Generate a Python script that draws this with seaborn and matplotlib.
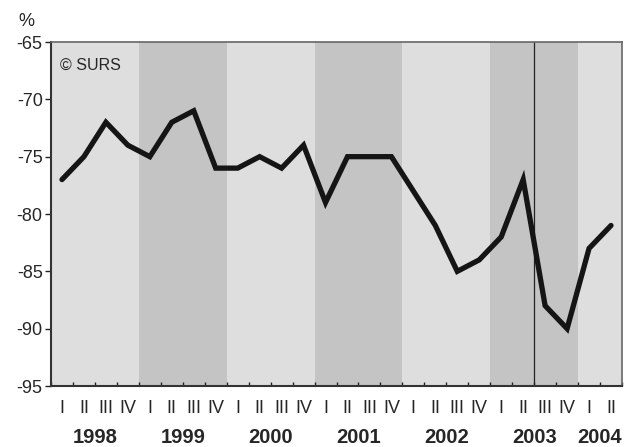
import matplotlib
matplotlib.use("Agg")
import matplotlib.pyplot as plt
import seaborn as sns
import numpy as np
import pandas as pd

# quarterly values, 1998 Q1 - 2004 Q2
years = ['1998', '1999', '2000', '2001', '2002', '2003', '2004']
quarters = ['I', 'II', 'III', 'IV']
values = [-77, -75, -72, -74,
          -75, -72, -71, -76,
          -76, -75, -76, -74,
          -79, -75, -75, -75,
          -78, -81, -85, -84,
          -82, -77, -88, -90,
          -83, -81]
quarter_labels = (quarters * 7)[:len(values)]
year_of_point = [years[i // 4] for i in range(len(values))]

df = pd.DataFrame({'pos': np.arange(len(values)) + 0.5, 'value': values,
                   'quarter': quarter_labels, 'year': year_of_point})

sns.set_style('white')
plt.rcParams['font.family'] = ['Liberation Sans', 'DejaVu Sans']

fig = plt.figure(figsize=(6.32, 4.47), dpi=100)
ax = fig.add_axes([51 / 632, 1 - 386 / 447, 571 / 632, 344 / 447])

n = len(values)
band_colors = ['#dedede', '#c4c4c4']
for i, y in enumerate(years):
    start = i * 4
    end = min(start + 4, n)
    ax.axvspan(start, end, color=band_colors[i % 2], lw=0, zorder=0)

# break line in 2003 between Q2 and Q3
ax.axvline(22, color='#222222', lw=0.9, zorder=1)

sns.lineplot(data=df, x='pos', y='value', ax=ax, color='#151515', lw=3.8,
             zorder=3, solid_joinstyle='miter')

ax.set_xlim(0, n)
ax.set_ylim(-95, -65)
ax.set_yticks(np.arange(-95, -64, 5))
ax.set_yticklabels([str(v) for v in range(-95, -64, 5)], fontsize=13)
ax.set_xticks(np.arange(0, n + 1))
ax.set_xticklabels([])
ax.tick_params(axis='x', direction='in', length=3, width=1, color='#222222', bottom=True)
ax.tick_params(axis='y', direction='out', length=4, width=1, color='#222222', left=True, pad=2)
ax.set_xlabel('')
ax.set_ylabel('')

for side in ['left', 'bottom']:
    ax.spines[side].set_color('#333333')
    ax.spines[side].set_linewidth(1.5)
for side in ['top', 'right']:
    ax.spines[side].set_color('#666666')
    ax.spines[side].set_linewidth(1.2)

trans = ax.get_xaxis_transform()
for p, q in zip(df['pos'], df['quarter']):
    ax.text(p, -0.066, q, transform=trans, ha='center', va='center', fontsize=13,
            family=['Liberation Sans Narrow', 'Liberation Sans'])
for i, y in enumerate(years):
    start = i * 4
    end = min(start + 4, n)
    ax.text((start + end) / 2, -0.15, y, transform=trans, ha='center', va='center',
            fontsize=14.5, fontweight='bold')

ax.text(0.016, 0.955, '© SURS', transform=ax.transAxes, ha='left', va='top', fontsize=11.5)
fig.text(18 / 632, 1 - 21 / 447, '%', ha='left', va='center', fontsize=13)

fig.savefig('out.png', dpi=100)
